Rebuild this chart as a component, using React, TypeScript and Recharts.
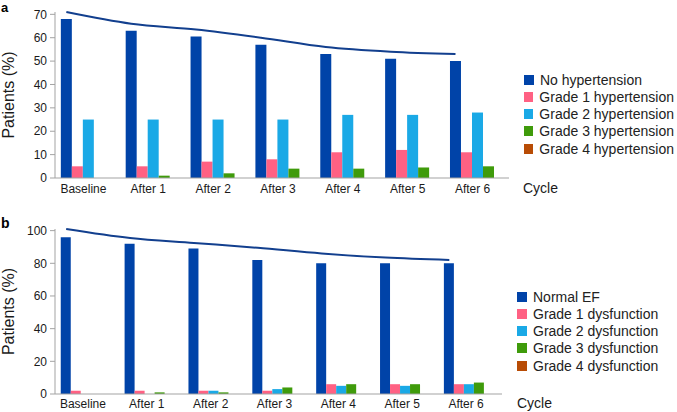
import { ComposedChart, Bar, Line, XAxis, YAxis, Legend } from 'recharts';

const cycles = ['Baseline', 'After 1', 'After 2', 'After 3', 'After 4', 'After 5', 'After 6'];

// panel a - blood pressure
const hypNames = ['No hypertension', 'Grade 1 hypertension', 'Grade 2 hypertension', 'Grade 3 hypertension', 'Grade 4 hypertension'];
const noHypertension = [68, 63, 60.5, 57, 53, 51, 50];
const grade1Hyp = [5, 5, 7, 8, 11, 12, 11];
const grade2Hyp = [25, 25, 25, 25, 27, 27, 28];
const grade3Hyp = [0, 1, 2, 4, 4, 4.5, 5];
const grade4Hyp = [0, 0, 0, 0, 0, 0, 0];
const hypTrend = [71, 66, 63.5, 60, 56, 54, 53];
const hypTicks = [0, 10, 20, 30, 40, 50, 60, 70];

// panel b - ejection fraction
const efNames = ['Normal EF', 'Grade 1 dysfunction', 'Grade 2 dysfunction', 'Grade 3 dysfunction', 'Grade 4 dysfunction'];
const normalEF = [96, 92, 89, 82, 80, 80, 80];
const grade1Dys = [2, 2, 2, 2, 6, 6, 6];
const grade2Dys = [0, 0, 2, 3, 5, 5, 6];
const grade3Dys = [0, 1, 1, 4, 6, 6, 7];
const grade4Dys = [0, 0, 0, 0, 0, 0, 0];
const efTrend = [101, 95.5, 92.5, 89.5, 86, 83.5, 82];
const efTicks = [0, 20, 40, 60, 80, 100];

const colors = ['#0043A8', '#FF6183', '#1AA9E6', '#3F9B0B', '#B84C05'];
const trendColor = '#123F8E';
const axisColor = '#a3a3a3';
const font = '"Liberation Sans", Arial, sans-serif';
// the trend line runs through the first bar of each group
const LINE_OFFSET = 0.175;

const build = (series: number[][], trend: number[]) =>
  cycles.map((c, i) => ({
    cycle: c,
    pos: i + LINE_OFFSET,
    s0: series[0][i],
    s1: series[1][i],
    s2: series[2][i],
    s3: series[3][i],
    s4: series[4][i],
    trend: trend[i],
  }));

const LegendBox = (props: any) => {
  const items = (props.payload || []).filter((p: any) => p.type !== 'none');
  return (
    <div style={{ fontFamily: font, fontSize: 14, color: '#222' }}>
      {items.map((p: any) => (
        <div key={p.value} style={{ height: 17.25, display: 'flex', alignItems: 'center', whiteSpace: 'nowrap' }}>
          <span style={{ width: 10, height: 10, background: p.color, display: 'inline-block', marginRight: 6 }} />
          <span>{p.value}</span>
        </div>
      ))}
    </div>
  );
};

type PanelProps = {
  data: any[];
  names: string[];
  ticks: number[];
  height: number;
  margin: { top: number; right: number; bottom: number; left: number };
  xAxisHeight: number;
  tickSize: number;
  legendPos: { left: number; top: number };
  cycleOffset: number;
};

function Panel(p: PanelProps) {
  return (
    <ComposedChart
      width={677}
      height={p.height}
      data={p.data}
      margin={p.margin}
      barCategoryGap="9%"
      barGap={0}
    >
      <XAxis
        dataKey="cycle"
        height={p.xAxisHeight}
        tickLine={false}
        tickSize={p.tickSize}
        tickMargin={0}
        interval={0}
        axisLine={{ stroke: axisColor }}
        tick={{ fontSize: 12, fill: '#1a1a1a', fontFamily: font, dx: -4 }}
        label={{ value: 'Cycle', position: 'right', offset: p.cycleOffset, fontSize: 14, fill: '#1a1a1a', fontFamily: font }}
      />
      <XAxis xAxisId="trend" dataKey="pos" type="number" domain={[0, cycles.length]} hide />
      <YAxis
        width={55}
        domain={[0, 'dataMax']}
        ticks={p.ticks}
        interval={0}
        tickSize={5}
        tickMargin={3}
        axisLine={{ stroke: axisColor }}
        tickLine={{ stroke: axisColor }}
        tick={{ fontSize: 12, fill: '#1a1a1a', fontFamily: font }}
        label={{
          value: 'Patients (%)',
          angle: -90,
          position: 'insideLeft',
          offset: 8,
          fontSize: 16,
          fill: '#1a1a1a',
          fontFamily: font,
          style: { textAnchor: 'middle' },
        }}
      />
      {p.names.map((n, i) => (
        <Bar key={n} dataKey={`s${i}`} name={n} fill={colors[i]} isAnimationActive={false} />
      ))}
      <Line
        xAxisId="trend"
        dataKey="trend"
        type="monotone"
        stroke={trendColor}
        strokeWidth={2}
        dot={false}
        legendType="none"
        isAnimationActive={false}
      />
      <Legend
        layout="vertical"
        align="center"
        verticalAlign="middle"
        itemSorter="dataKey"
        content={<LegendBox />}
        wrapperStyle={{ left: p.legendPos.left, top: p.legendPos.top, width: 150 }}
      />
    </ComposedChart>
  );
}

const hypData = build([noHypertension, grade1Hyp, grade2Hyp, grade3Hyp, grade4Hyp], hypTrend);
const efData = build([normalEF, grade1Dys, grade2Dys, grade3Dys, grade4Dys], efTrend);

export default function App() {
  return (
    <div style={{ position: 'absolute', left: 0, top: 0, width: 677, height: 412, background: '#fff', fontFamily: font }}>
      <div style={{ position: 'absolute', left: 0, top: 0 }}>
        <Panel
          data={hypData}
          names={hypNames}
          ticks={hypTicks}
          height={200}
          margin={{ top: 12, right: 168, bottom: 2, left: 0 }}
          xAxisHeight={20}
          tickSize={6}
          legendPos={{ left: 524, top: 71 }}
          cycleOffset={14}
        />
      </div>
      <div style={{ position: 'absolute', left: 0, top: 200 }}>
        <Panel
          data={efData}
          names={efNames}
          ticks={efTicks}
          height={212}
          margin={{ top: 29, right: 175, bottom: 0, left: 0 }}
          xAxisHeight={18}
          tickSize={5}
          legendPos={{ left: 517, top: 88 }}
          cycleOffset={15}
        />
      </div>
      <div style={{ position: 'absolute', left: 1, top: 0, fontSize: 13, fontWeight: 'bold' }}>a</div>
      <div style={{ position: 'absolute', left: 1, top: 216, fontSize: 14, lineHeight: '14px', fontWeight: 'bold' }}>b</div>
    </div>
  );
}
